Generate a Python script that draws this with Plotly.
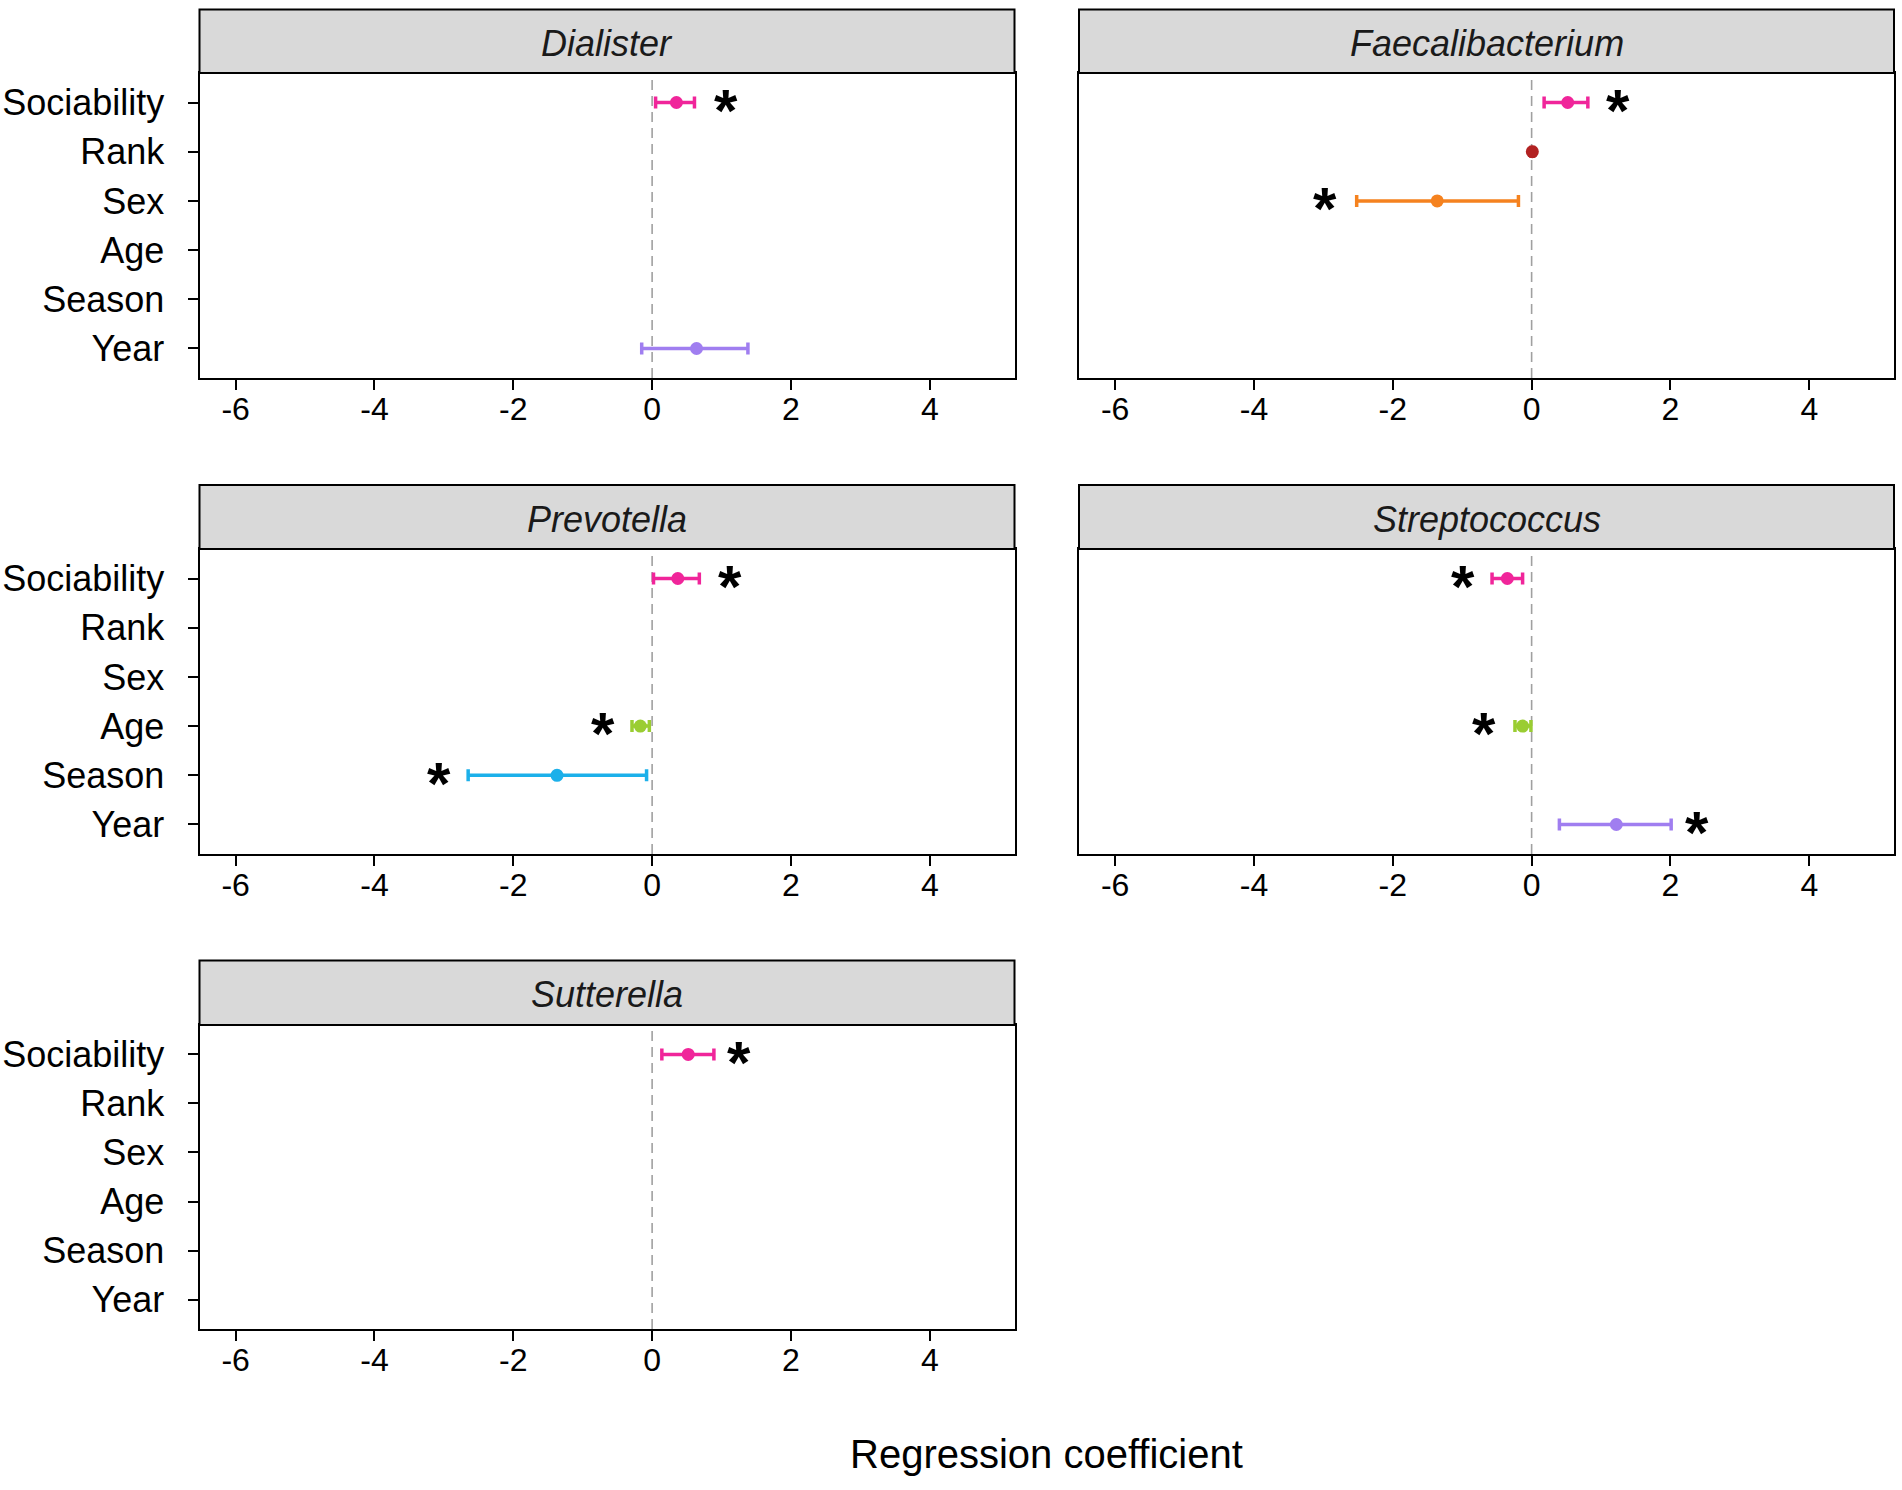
import plotly.graph_objects as go

# ---------------- data ----------------
factors = ["Sociability", "Rank", "Sex", "Age", "Season", "Year"]
factor_colors = ["#F0259A", "#B22222", "#F5821F", "#9ACD32", "#1CB0EA", "#A07EF0"]
x_tickvals = [-6, -4, -2, 0, 2, 4]
x_ticktext = ["-6", "-4", "-2", "0", "2", "4"]

panel_names = ["Dialister", "Faecalibacterium", "Prevotella", "Streptococcus", "Sutterella"]

dialister_factor = ["Sociability", "Year"]
dialister_coef = [0.35, 0.64]
dialister_lo = [0.05, -0.15]
dialister_hi = [0.61, 1.38]
dialister_star = [1.07, None]

faecali_factor = ["Sociability", "Rank", "Sex"]
faecali_coef = [0.52, 0.01, -1.36]
faecali_lo = [0.18, -0.01, -2.52]
faecali_hi = [0.81, 0.03, -0.19]
faecali_star = [1.25, None, -2.97]

prevotella_factor = ["Sociability", "Age", "Season"]
prevotella_coef = [0.37, -0.17, -1.37]
prevotella_lo = [0.02, -0.29, -2.65]
prevotella_hi = [0.68, -0.04, -0.08]
prevotella_star = [1.12, -0.71, -3.07]

strepto_factor = ["Sociability", "Age", "Year"]
strepto_coef = [-0.35, -0.13, 1.22]
strepto_lo = [-0.57, -0.24, 0.40]
strepto_hi = [-0.13, -0.01, 2.01]
strepto_star = [-0.99, -0.68, 2.38]

sutterella_factor = ["Sociability"]
sutterella_coef = [0.52]
sutterella_lo = [0.14]
sutterella_hi = [0.89]
sutterella_star = [1.25]

panel_data = [
    (dialister_factor, dialister_coef, dialister_lo, dialister_hi, dialister_star),
    (faecali_factor, faecali_coef, faecali_lo, faecali_hi, faecali_star),
    (prevotella_factor, prevotella_coef, prevotella_lo, prevotella_hi, prevotella_star),
    (strepto_factor, strepto_coef, strepto_lo, strepto_hi, strepto_star),
    (sutterella_factor, sutterella_coef, sutterella_lo, sutterella_hi, sutterella_star),
]

x_title = "Regression coefficient"

# ---------------- layout geometry (pixels) ----------------
W, H = 1902, 1490
col_px = [(199.5, 1014.5), (1079, 1894)]
row_px = [(9.5, 73, 378), (485, 549, 854), (960.5, 1025, 1329)]
x_range = [-6.52, 5.22]
cat_order = factors[::-1]
FONT = "Liberation Sans, Arial, sans-serif"
STAR_SIZE = 60

def px_x(p):
    return p / W

def px_y(p):
    return 1 - p / H

fig = go.Figure()
layout = dict(
    width=W, height=H,
    margin=dict(l=0, r=0, t=0, b=0, autoexpand=False),
    paper_bgcolor="white", plot_bgcolor="white",
    showlegend=False,
    font=dict(family=FONT, color="black"),
)
shapes = []
annotations = []

for i, name in enumerate(panel_names):
    r, c = divmod(i, 2)
    xa = "xaxis" if i == 0 else f"xaxis{i+1}"
    ya = "yaxis" if i == 0 else f"yaxis{i+1}"
    xr = "x" if i == 0 else f"x{i+1}"
    yr = "y" if i == 0 else f"y{i+1}"
    x0, x1 = col_px[c]
    s_top, p_top, p_bot = row_px[r]

    layout[xa] = dict(
        domain=[px_x(x0), px_x(x1)], anchor=yr, range=x_range, automargin=False,
        tickmode="array", tickvals=x_tickvals, ticktext=x_ticktext,
        ticks="outside", ticklen=10, tickwidth=2, tickcolor="black",
        tickfont=dict(size=32, color="black", family=FONT),
        showline=True, linewidth=2, linecolor="black", mirror=True,
        showgrid=False, zeroline=False, ticklabelstandoff=-8,
    )
    layout[ya] = dict(
        domain=[px_y(p_bot), px_y(p_top)], anchor=xr, automargin=False,
        type="category", categoryorder="array", categoryarray=cat_order,
        range=[-0.6, len(factors) - 0.4],
        showline=True, linewidth=2, linecolor="black", mirror=True,
        showgrid=False, zeroline=False,
        tickfont=dict(size=36, color="black", family=FONT),
    )
    if c == 0:
        layout[ya].update(ticks="outside", ticklen=10, tickwidth=2, tickcolor="black",
                          showticklabels=True, ticklabelstandoff=16)
    else:
        layout[ya].update(ticks="", showticklabels=False)

    # zero reference line
    shapes.append(dict(type="line", xref=xr, yref=f"{yr} domain", x0=0, x1=0, y0=0, y1=1,
                       line=dict(color="#A0A0A0", width=1.6, dash="10px,6px"), layer="below"))
    # strip
    shapes.append(dict(type="rect", xref="paper", yref="paper",
                       x0=px_x(x0), x1=px_x(x1), y0=px_y(p_top), y1=px_y(s_top),
                       fillcolor="#D9D9D9", line=dict(color="black", width=2), layer="above"))
    annotations.append(dict(xref="paper", yref="paper", x=(px_x(x0) + px_x(x1)) / 2,
                            y=(px_y(p_top) + px_y(s_top)) / 2, text=f"<i>{name}</i>",
                            showarrow=False, font=dict(size=36, color="#1A1A1A", family=FONT),
                            xanchor="center", yanchor="middle", yshift=-2))

    fac, coef, lo, hi, star = panel_data[i]
    for f, m, l, h, s in zip(fac, coef, lo, hi, star):
        col = factor_colors[factors.index(f)]
        fig.add_trace(go.Scatter(
            x=[m], y=[f], mode="markers", xaxis=xr, yaxis=yr,
            marker=dict(color=col, size=13, symbol="circle"),
            error_x=dict(type="data", symmetric=False, array=[h - m], arrayminus=[m - l],
                         color=col, thickness=3.5, width=6),
            hoverinfo="skip",
        ))
        if s is not None:
            annotations.append(dict(xref=xr, yref=yr, x=s, y=cat_order.index(f), text="<b>*</b>",
                                    showarrow=False,
                                    font=dict(size=STAR_SIZE, color="black", family=FONT),
                                    xanchor="center", yanchor="middle",
                                    yshift=-0.13 * STAR_SIZE))

annotations.append(dict(xref="paper", yref="paper",
                        x=(px_x(col_px[0][0]) + px_x(col_px[1][1])) / 2, y=px_y(1454),
                        text=x_title, showarrow=False,
                        font=dict(size=40, color="black", family=FONT),
                        xanchor="center", yanchor="middle"))

layout["shapes"] = shapes
layout["annotations"] = annotations
fig.update_layout(**layout)
fig.write_html(
    "out.html",
    config={"displayModeBar": False},
    post_script="document.body.style.margin='0';document.body.style.overflow='hidden';",
)
